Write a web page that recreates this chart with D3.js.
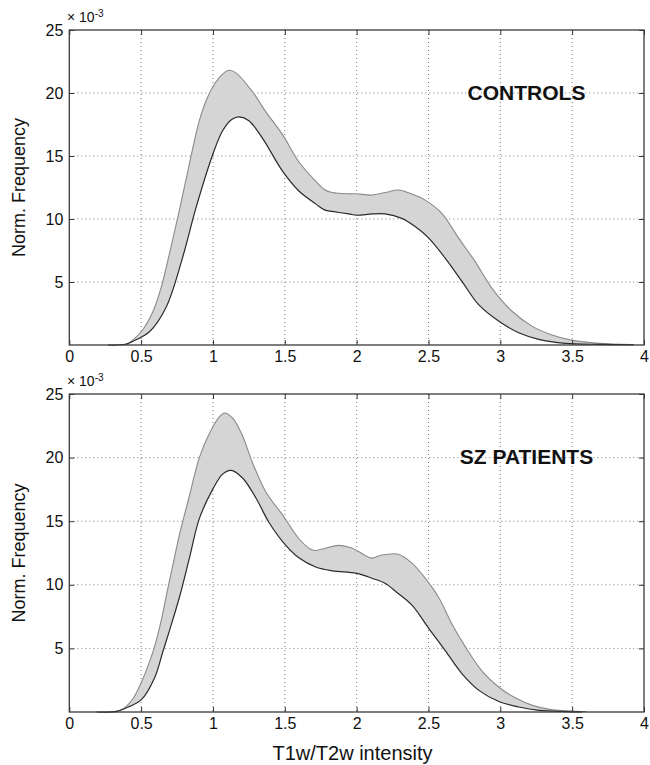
<!DOCTYPE html>
<html>
<head>
<meta charset="utf-8">
<script src="https://cdn.jsdelivr.net/npm/d3@7"></script>
<style>
    body { margin: 0; background: #fff; }
    svg text { font-family: "Liberation Sans", Arial, Helvetica, sans-serif; fill: #111; }
</style>
</head>
<body>
<div id="chart"></div>
<script>

// x ticks / y ticks (values in units of 10^-3)
var xTicks = [0, 0.5, 1, 1.5, 2, 2.5, 3, 3.5, 4]
var yTicks = [5, 10, 15, 20, 25]
var yGrid = [5, 10, 15, 20]

// controls : upper and lower edges of the band  [intensity, freq x 10^-3]
var controlsUpper = [[0.40,0],[0.5,1.05],[0.58,2.6],[0.64,4.6],[0.7,7.4],[0.77,10.9],[0.84,14.6],[0.905,17.8],[0.96,19.6],[1.01,20.7],[1.067,21.5],[1.113,21.8],[1.16,21.6],[1.275,20.1],[1.368,18.5],[1.484,16.7],[1.6,14.5],[1.715,13.0],[1.78,12.3],[1.83,12.1],[1.946,12.0],[2.0,12.0],[2.105,11.9],[2.2,12.1],[2.29,12.3],[2.38,12.0],[2.477,11.5],[2.593,10.45],[2.709,8.5],[2.826,6.6],[2.942,4.5],[3.08,2.7],[3.22,1.5],[3.36,0.79],[3.5,0.37],[3.686,0.13],[3.92,0.03]]

var controlsLower = [[0.27,0],[0.396,0.08],[0.48,0.5],[0.558,1.05],[0.674,3.0],[0.79,7.0],[0.882,10.9],[0.998,15.1],[1.067,17.0],[1.13,17.9],[1.183,18.1],[1.25,17.8],[1.345,16.4],[1.484,13.8],[1.6,12.2],[1.715,11.2],[1.78,10.7],[1.83,10.6],[1.946,10.4],[2.0,10.3],[2.11,10.4],[2.198,10.4],[2.314,10.05],[2.407,9.4],[2.5,8.5],[2.616,6.9],[2.733,5.05],[2.849,3.2],[2.988,1.9],[3.128,0.97],[3.267,0.45],[3.453,0.13],[3.686,0.05],[3.93,0.02]]

// sz patients
var patientsUpper = [[0.305,0],[0.375,0.26],[0.44,1.0],[0.5,2.3],[0.56,4.0],[0.6,5.4],[0.64,7.2],[0.68,9.4],[0.72,11.5],[0.766,13.9],[0.836,17.0],[0.905,20.0],[0.975,21.9],[1.044,23.2],[1.079,23.5],[1.137,23.1],[1.206,21.7],[1.275,19.6],[1.368,17.3],[1.484,15.5],[1.6,13.6],[1.68,12.8],[1.715,12.7],[1.79,12.9],[1.872,13.1],[1.965,12.9],[2.016,12.6],[2.105,12.1],[2.16,12.3],[2.22,12.4],[2.29,12.4],[2.385,11.7],[2.478,10.5],[2.571,9.0],[2.664,6.9],[2.758,5.1],[2.874,3.2],[2.99,1.95],[3.107,1.1],[3.224,0.52],[3.364,0.18],[3.5,0.08],[3.6,0.03]]

var patientsLower = [[0.19,0],[0.33,0.05],[0.42,0.44],[0.5,0.95],[0.594,2.7],[0.65,4.7],[0.7,6.5],[0.766,9.0],[0.836,12.1],[0.905,15.2],[0.998,17.5],[1.067,18.7],[1.125,19.0],[1.206,18.4],[1.3,16.8],[1.39,14.9],[1.507,13.1],[1.6,12.1],[1.715,11.4],[1.83,11.1],[2.0,10.9],[2.11,10.5],[2.2,10.1],[2.28,9.4],[2.385,8.4],[2.5,6.6],[2.618,4.8],[2.734,3.0],[2.851,1.7],[2.99,0.83],[3.13,0.39],[3.27,0.13],[3.457,0.03],[3.57,0]]

var groups = ["CONTROLS", "SZ PATIENTS"]

var panels = [
    { label: groups[0], upper: controlsUpper, lower: controlsLower, top: 30, bottom: 345, labelY: 100 },
    { label: groups[1], upper: patientsUpper, lower: patientsLower, top: 394, bottom: 712, labelY: 464 }
]

var width = 650
var height = 765
var left = 69.3
var right = 644

var svg = d3.select("#chart").append("svg")
            .attr("width", width)
            .attr("height", height)

var x = d3.scaleLinear().domain([0, 4]).range([left, right])

panels.forEach(function(p) {

    var y = d3.scaleLinear().domain([0, 25]).range([p.bottom, p.top])

    var g = svg.append("g")

    // dotted grid
    g.append("g")
        .selectAll("line")
        .data(xTicks.slice(1, -1))
        .enter()
        .append("line")
        .attr("x1", d => x(d))
        .attr("x2", d => x(d))
        .attr("y1", p.top)
        .attr("y2", p.bottom)
        .style("stroke", "#777")
        .style("stroke-width", 1)
        .style("stroke-dasharray", "1,3")

    g.append("g")
        .selectAll("line")
        .data(yGrid)
        .enter()
        .append("line")
        .attr("x1", left)
        .attr("x2", right)
        .attr("y1", d => y(d))
        .attr("y2", d => y(d))
        .style("stroke", "#777")
        .style("stroke-width", 1)
        .style("stroke-dasharray", "1,3")

    var line = d3.line()
                .x(d => x(d[0]))
                .y(d => y(d[1]))
                .curve(d3.curveCatmullRom)

    // band between the two edges
    var band = p.upper.concat(p.lower.slice().reverse())

    g.append("path")
        .attr("d", line(band) + "Z")
        .style("fill", "#d5d5d5")
        .style("stroke", "none")

    g.append("path")
        .attr("d", line(p.upper))
        .style("fill", "none")
        .style("stroke", "#8a8a8a")
        .style("stroke-width", 1.1)

    g.append("path")
        .attr("d", line(p.lower))
        .style("fill", "none")
        .style("stroke", "#2a2a2a")
        .style("stroke-width", 1.2)

    // axes, matlab style ticks pointing in
    g.append("g")
        .attr("transform", "translate(0," + p.bottom + ")")
        .call(d3.axisBottom(x).tickValues(xTicks).tickFormat(d3.format("")).tickSizeInner(-5).tickSizeOuter(0).tickPadding(6))

    g.append("g")
        .attr("transform", "translate(" + left + ",0)")
        .call(d3.axisLeft(y).tickValues(yTicks).tickSizeInner(-5).tickSizeOuter(0).tickPadding(6))

    g.append("g")
        .attr("transform", "translate(" + right + ",0)")
        .call(d3.axisRight(y).tickValues(yTicks).tickFormat("").tickSizeInner(-5).tickSizeOuter(0))

    g.append("g")
        .attr("transform", "translate(0," + p.top + ")")
        .call(d3.axisTop(x).tickValues(xTicks).tickFormat("").tickSizeInner(-5).tickSizeOuter(0))

    g.selectAll(".domain").remove()
    g.selectAll(".tick line").style("stroke", "#333")

    g.selectAll(".tick text")
        .style("font-size", "16px")
        .style("fill", "#111")
        .attr("font-family", null)

    g.append("rect")
        .attr("x", left)
        .attr("y", p.top)
        .attr("width", right - left)
        .attr("height", p.bottom - p.top)
        .style("fill", "none")
        .style("stroke", "#3a3a3a")
        .style("stroke-width", 1.3)

    // exponent label
    var exp = g.append("text")
        .attr("x", 67)
        .attr("y", p.top - 8)
        .style("font-size", "14px")

    exp.append("tspan").text("× 10")
    exp.append("tspan").attr("dy", -5).style("font-size", "10px").text("-3")

    g.append("text")
        .attr("transform", "translate(25," + ((p.top + p.bottom) / 2) + ") rotate(-90)")
        .attr("text-anchor", "middle")
        .style("font-size", "18px")
        .text("Norm. Frequency")

    g.append("text")
        .attr("x", 526.5)
        .attr("y", p.labelY)
        .attr("text-anchor", "middle")
        .style("font-size", "21px")
        .style("font-weight", "bold")
        .text(p.label)

})

svg.append("text")
    .attr("x", 352.5)
    .attr("y", 760)
    .attr("text-anchor", "middle")
    .style("font-size", "20px")
    .text("T1w/T2w intensity")

</script>
</body>
</html>
